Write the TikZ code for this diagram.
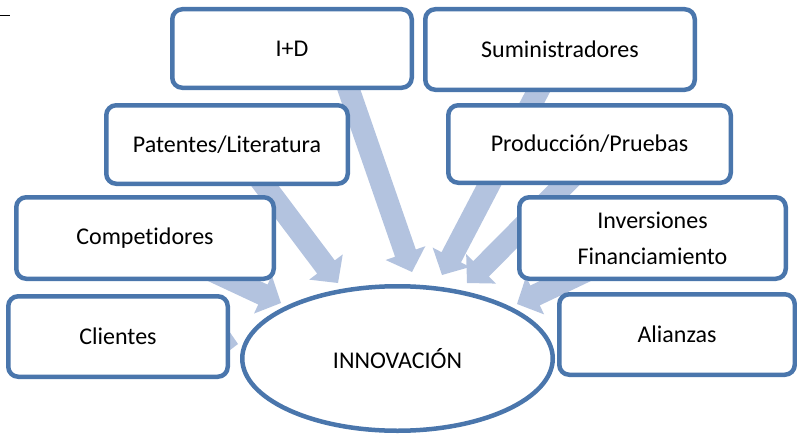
\documentclass[tikz,border=0pt]{standalone}
\usepackage{fontspec}
\setmainfont{Carlito}[Ligatures={NoCommon,NoDiscretionary}]
\usetikzlibrary{calc,shapes.geometric}
\definecolor{bordercol}{RGB}{74,118,172}
\definecolor{arrowcol}{RGB}{179,195,223}
\newcommand\blockarrow[2]{%
  \path ($(#2)!20pt!(#1)$) coordinate (ah);
  \fill[arrowcol] ($(#1)!11pt!90:(#2)$) -- ($(ah)!11pt!90:(#2)$) -- ($(ah)!21pt!90:(#2)$) -- (#2)
    -- ($(ah)!21pt!-90:(#2)$) -- ($(ah)!11pt!-90:(#2)$) -- ($(#1)!11pt!-90:(#2)$) -- cycle;}
\tikzset{
  box/.style={draw=bordercol, line width=4.5pt, rounded corners=10pt, fill=white,
    align=center, inner sep=0pt, font=\fontsize{24}{36}\selectfont},
  innov/.style={draw=bordercol, line width=4.5pt, fill=white, ellipse, inner sep=0pt,
    font=\fontsize{24}{36}\selectfont}
}
\begin{document}
\begin{tikzpicture}[x=1pt,y=-1pt]
\useasboundingbox (0,0) rectangle (797,436);
% arrow coordinates
\coordinate (sID) at (343,73);   \coordinate (tID) at (412,272);
\coordinate (sPat) at (253,170); \coordinate (tPat) at (338,283);
\coordinate (sComp) at (176,254);\coordinate (tComp) at (281,303);
\coordinate (sCli) at (150,330); \coordinate (tCli) at (238,344);
\coordinate (sSum) at (547,74);  \coordinate (tSum) at (442,275);
\coordinate (sProd) at (576,173);\coordinate (tProd) at (467,283);
\coordinate (sInv) at (620,255); \coordinate (tInv) at (517,304);
\blockarrow{sID}{tID}
\blockarrow{sPat}{tPat}
\blockarrow{sComp}{tComp}
\blockarrow{sCli}{tCli}
\blockarrow{sSum}{tSum}
\blockarrow{sProd}{tProd}
\blockarrow{sInv}{tInv}
% boxes
\node[box, minimum width=239.5pt, minimum height=78.5pt] (id) at (292,48.5) {I+D};
\node[box, minimum width=269.5pt, minimum height=80.5pt] (sum) at (560,49.5) {Suministradores};
\node[box, minimum width=241.5pt, minimum height=78.5pt] (pat) at (227,144.5) {Patentes/Literatura};
\node[box, minimum width=282.5pt, minimum height=77.5pt] (prod) at (589.5,144) {Producción/Pruebas};
\node[box, minimum width=257.5pt, minimum height=81.5pt] (comp) at (145,238) {Competidores};
\node[box, minimum width=266.5pt, minimum height=81.5pt] (inv) at (652.5,238) {Inversiones\\Financiamiento};
\node[box, minimum width=219.5pt, minimum height=80.5pt] (cli) at (118,336.5) {Clientes};
\node[box, minimum width=235.5pt, minimum height=80.5pt] (ali) at (677,334.5) {Alianzas};
\node[innov, minimum width=310.5pt, minimum height=144.5pt] (inn) at (397.5,358.5) {INNOVACIÓN};
% stray mark
\draw[line width=1.7pt] (0,15.5) -- (10,15.5);
\end{tikzpicture}
\end{document}
